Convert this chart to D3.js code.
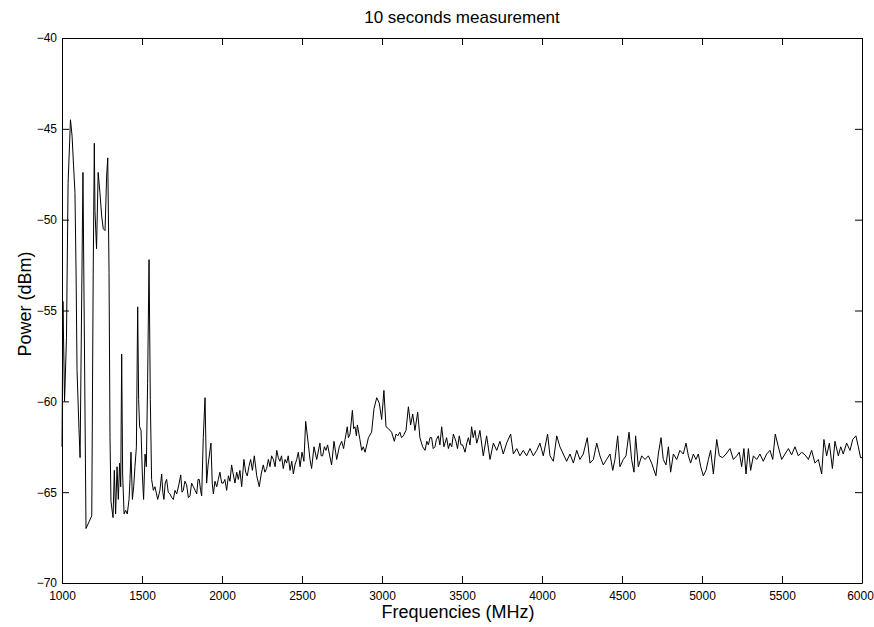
<!DOCTYPE html>
<html>
<head>
<meta charset="utf-8">
<script src="https://cdn.jsdelivr.net/npm/d3@7"></script>
<style>
  body { margin: 0; background: #fff; }
  svg { display: block; font-family: "Liberation Sans", Arial, sans-serif; }
  .axis text { font-size: 12px; fill: #000; }
  .axis path, .axis line { stroke: #000; }
</style>
</head>
<body>
<svg id="chart" width="874" height="627"></svg>
<script>
var freqs = [
  1000, 1006, 1016, 1028, 1038, 1053, 1063, 1072, 1081, 1088, 1094, 1106, 1113, 1131, 1150, 1186,
  1195, 1202, 1206, 1216, 1226, 1237, 1248, 1258, 1269, 1279, 1286, 1294, 1300, 1306, 1319,
  1327, 1335, 1344, 1352, 1360, 1367, 1373, 1379, 1388, 1398, 1408, 1419, 1425, 1431, 1440,
  1448, 1456, 1465, 1473, 1479, 1485, 1494, 1502, 1510, 1519, 1527, 1535, 1544, 1552, 1560,
  1571, 1581, 1598,
  1612, 1623, 1630, 1637, 1645, 1654, 1664, 1675, 1686, 1696, 1706, 1717, 1730, 1742, 1750,
  1758, 1768, 1779, 1790, 1800, 1810, 1821, 1832, 1842, 1850, 1858, 1866, 1873, 1883, 1894,
  1904, 1913, 1931, 1939, 1946, 1956, 1967, 1977, 1987, 1998, 2008, 2018, 2029, 2040, 2050,
  2060, 2070, 2081, 2092, 2102, 2112, 2123, 2137, 2148, 2158, 2168, 2179, 2190, 2202, 2217,
  2233, 2245, 2258, 2268, 2279, 2290, 2300, 2310, 2321, 2332, 2342, 2352, 2362, 2372, 2383,
  2394, 2404, 2414, 2425, 2436, 2446, 2456, 2467, 2477, 2488, 2500, 2512, 2523, 2540, 2550,
  2560, 2575, 2592, 2612, 2620, 2629, 2640, 2650, 2660, 2671, 2685, 2700, 2710, 2717, 2733,
  2748, 2760, 2769, 2783, 2790, 2800, 2815, 2823, 2831, 2840, 2846, 2862, 2873, 2883, 2894,
  2905, 2915, 2935, 2950, 2967, 2983, 2998, 3012, 3025, 3040, 3060, 3077, 3088, 3098, 3112,
  3122, 3133, 3150, 3165, 3179, 3192, 3206, 3223, 3237, 3254, 3269, 3280, 3290, 3300, 3310,
  3320, 3331, 3340, 3352, 3362, 3373, 3387, 3404, 3415, 3425, 3436, 3446, 3462, 3472, 3483,
  3494, 3504, 3519, 3530, 3540, 3550, 3560, 3570, 3581, 3592, 3602,
  3612, 3633, 3654, 3675, 3696, 3717, 3737, 3758, 3779, 3804, 3821, 3842, 3862, 3883, 3904,
  3925, 3946, 3967, 3987, 4008, 4035, 4050, 4071, 4092, 4112, 4133, 4154, 4175, 4196, 4217,
  4237, 4258, 4283, 4300, 4321, 4342, 4362, 4383, 4404, 4425, 4442, 4456, 4473, 4487, 4508,
  4525, 4544, 4560, 4575, 4585, 4602, 4623, 4644, 4665, 4685, 4712, 4727, 4744, 4758, 4775,
  4790, 4804, 4821, 4842, 4862,
  4883, 4900, 4915, 4929, 4946, 4962, 4977, 4992, 5008, 5025, 5040, 5054, 5071, 5092, 5108,
  5129, 5150, 5175, 5196, 5217, 5233, 5248, 5262, 5275, 5290, 5304, 5321, 5342, 5362, 5383,
  5404, 5425, 5442, 5458, 5477, 5498, 5519, 5540, 5560, 5581, 5602, 5623, 5644, 5665, 5685,
  5706, 5727, 5748, 5762, 5779, 5796, 5815, 5831, 5852, 5867, 5883, 5904, 5925, 5942, 5962,
  5977, 5991, 6000
];

var power = [
  -62.5, -54.5, -60.0, -56.5, -48.0, -44.5, -45.4, -47.0, -48.5, -53.0, -58.3, -61.5, -63.1, -47.4, -67.0, -66.3,
  -53.0, -45.8, -49.5, -51.6, -47.4, -48.5, -49.8, -50.5, -50.6, -47.6, -46.6, -52.9, -62.0, -65.5, -66.4,
  -63.8, -66.2, -63.6, -65.4, -63.4, -64.7, -57.4, -64.0, -66.2, -66.0, -66.2, -65.4, -64.3, -62.8, -65.4,
  -64.7, -63.6, -62.5, -54.8, -59.9, -61.4, -61.6, -64.0, -65.4, -62.9, -63.6, -59.0, -52.2, -59.9, -64.3,
  -64.9, -64.7, -65.4,
  -64.9, -64.0, -65.0, -65.4, -64.5, -64.3, -65.0, -65.1, -65.3, -65.4, -64.9, -65.1, -64.6, -64.05, -65.0,
  -64.9, -64.4, -64.6, -65.3, -65.2, -64.5, -64.7, -64.9, -65.1, -64.3, -64.3, -64.9, -65.2, -62.0, -59.8,
  -64.5, -63.5, -62.3, -64.5, -65.1, -64.4, -64.7, -64.3, -63.9, -64.5, -64.5, -64.3, -64.9, -64.1, -64.4,
  -63.5, -64.0, -64.5, -63.9, -64.3, -63.8, -64.7, -63.2, -63.9, -64.1, -63.6, -63.2, -63.8, -63.0, -64.1,
  -64.7, -64.0, -63.5, -63.9, -63.7, -63.2, -63.6, -63.0, -63.2, -63.6, -62.7, -63.1, -63.3, -63.0, -63.7,
  -63.2, -63.4, -63.0, -63.8, -63.3, -64.0, -63.5, -63.2, -62.8, -63.6, -62.8, -63.3, -61.1, -62.4, -63.2,
  -63.7, -62.5, -63.2, -62.3, -63.0, -63.0, -62.5, -62.7, -62.4, -62.9, -63.5, -62.2, -62.8, -63.2, -62.5,
  -62.2, -62.6, -62.1, -61.4, -62.0, -61.8, -60.5, -61.5, -61.4, -61.9, -61.3, -62.1, -62.7, -62.5, -62.8,
  -62.4, -62.0, -61.7, -60.4, -59.8, -60.1, -61.0, -59.4, -61.4, -61.5, -61.7, -62.2, -61.8, -61.9, -61.7,
  -62.0, -61.9, -61.6, -60.3, -61.3, -60.7, -61.6, -60.6, -62.0, -62.5, -62.7, -62.2, -62.4, -62.0, -62.0,
  -62.6, -62.5, -62.1, -61.9, -62.4, -61.4, -62.5, -62.0, -62.6, -62.3, -62.5, -61.8, -62.2, -62.6, -61.9,
  -62.4, -62.4, -62.8, -62.3, -62.0, -62.4, -61.4, -62.0, -61.6, -62.3, -62.0,
  -61.6, -63.0, -61.9, -63.2, -62.3, -62.7, -62.2, -62.9, -62.3, -61.8, -62.9, -62.6, -63.0, -62.7, -63.0,
  -62.6, -63.0, -62.7, -62.3, -63.0, -61.8, -63.0, -63.3, -61.9, -62.5, -62.9, -63.3, -62.9, -63.4, -62.7,
  -63.2, -62.9, -62.0, -63.4, -63.2, -62.3, -63.0, -63.5, -63.2, -62.9, -63.8, -63.2, -61.9, -63.6, -63.2,
  -63.0, -61.7, -63.2, -63.9, -61.9, -63.6, -63.0, -63.2, -63.0, -63.4, -64.1, -62.9, -62.0, -63.2, -63.5,
  -62.5, -63.9, -62.9, -63.2, -62.7,
  -62.9, -62.3, -63.0, -63.4, -62.9, -63.2, -62.9, -63.6, -64.1, -63.8, -63.2, -62.7, -64.0, -62.1, -63.0,
  -63.1, -62.9, -62.6, -63.2, -63.0, -62.8, -63.6, -62.6, -64.0, -62.6, -63.8, -63.0, -63.2, -62.9, -63.3,
  -62.9, -62.7, -63.2, -61.8, -62.5, -63.2, -62.9, -62.6, -62.95, -62.5, -63.0, -62.8, -62.95, -63.2, -62.7,
  -63.4, -63.2, -64.0, -62.1, -63.0, -62.3, -63.7, -62.2, -63.0, -62.5, -62.9, -62.3, -62.7, -62.1, -61.9,
  -62.5, -63.1, -63.1
];

var xTicks = [1000, 1500, 2000, 2500, 3000, 3500, 4000, 4500, 5000, 5500, 6000];
var yTicks = [-70, -65, -60, -55, -50, -45, -40];

var title = "10 seconds measurement",
  xLabel = "Frequencies (MHz)",
  yLabel = "Power (dBm)";

var margin = { top: 38, right: 12, bottom: 44, left: 62 },
  width = 874 - margin.left - margin.right,
  height = 627 - margin.top - margin.bottom;

var svg = d3.select("#chart");
var g = svg.append("g").attr("transform", "translate(" + margin.left + "," + margin.top + ")");

var xScale = d3.scaleLinear().domain([1000, 6000]).range([0, width]);
var yScale = d3.scaleLinear().domain([-70, -40]).range([height, 0]);

var data = freqs.map(function (f, i) {
  return { freq: f, power: power[i] };
});

// box with inward ticks on all four sides, matlab style
var xAxis = g.append("g")
  .attr("class", "axis")
  .attr("transform", "translate(0," + height + ")")
  .call(d3.axisBottom(xScale).tickValues(xTicks).tickFormat(d3.format("d"))
    .tickSizeInner(-7).tickSizeOuter(0).tickPadding(8));
xAxis.selectAll(".tick:last-of-type text").attr("dx", "-2");

g.append("g")
  .attr("class", "axis")
  .call(d3.axisTop(xScale).tickValues(xTicks).tickSizeInner(-7).tickSizeOuter(0).tickFormat(""));

g.append("g")
  .attr("class", "axis")
  .call(d3.axisLeft(yScale).tickValues(yTicks).tickSizeInner(-7).tickSizeOuter(0).tickPadding(5));

g.append("g")
  .attr("class", "axis")
  .attr("transform", "translate(" + width + ",0)")
  .call(d3.axisRight(yScale).tickValues(yTicks).tickSizeInner(-7).tickSizeOuter(0).tickFormat(""));

var line = d3.line()
  .x(function (d) { return xScale(d.freq); })
  .y(function (d) { return yScale(d.power); });

g.append("path")
  .datum(data)
  .attr("fill", "none")
  .attr("stroke", "#000")
  .attr("stroke-width", 1)
  .attr("d", line);

svg.append("text")
  .attr("x", margin.left + width / 2)
  .attr("y", 23)
  .attr("text-anchor", "middle")
  .style("font-size", "17px")
  .text(title);

svg.append("text")
  .attr("x", margin.left + width / 2 - 4)
  .attr("y", 618)
  .attr("text-anchor", "middle")
  .style("font-size", "18px")
  .text(xLabel);

svg.append("text")
  .attr("transform", "translate(31,304) rotate(-90)")
  .attr("text-anchor", "middle")
  .style("font-size", "18px")
  .text(yLabel);
</script>
</body>
</html>
